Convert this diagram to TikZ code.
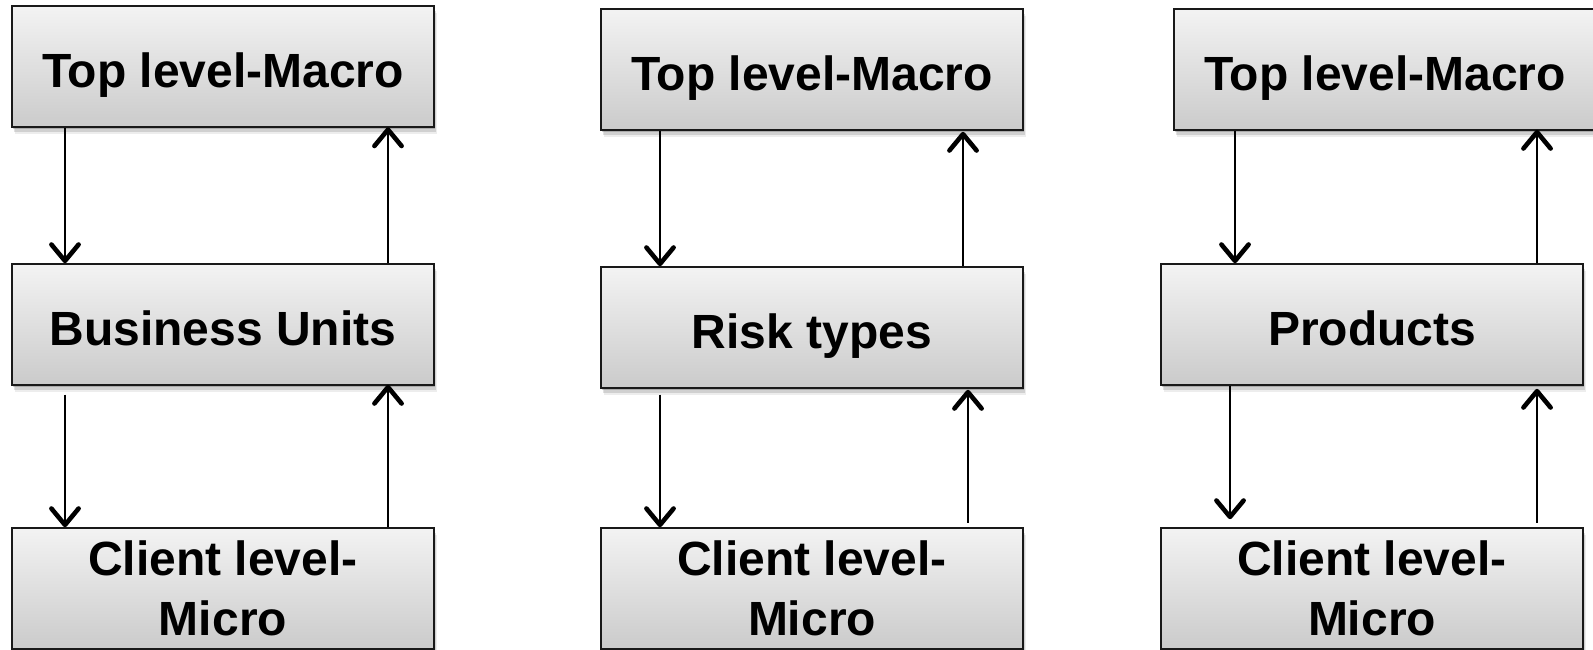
\documentclass[tikz,border=0pt]{standalone}
\usepackage{fontspec}
\setmainfont{Liberation Sans}
\usetikzlibrary{shadows,decorations.markings}
\definecolor{boxtop}{RGB}{243,243,243}
\definecolor{boxbot}{RGB}{203,203,203}
\definecolor{boxline}{RGB}{25,25,25}
\begin{document}
\begin{tikzpicture}[x=0.5pt,y=-0.5pt,
  box/.style={draw=boxline, line width=1pt, top color=boxtop, bottom color=boxbot,
    minimum width=211pt, minimum height=60.5pt, inner sep=0pt, align=center,
    font=\bfseries\fontsize{24}{30}\selectfont,
    drop shadow={shadow xshift=0.5pt, shadow yshift=-1.2pt, opacity=0.18, fill=black},
    drop shadow={shadow xshift=1pt, shadow yshift=-2.5pt, opacity=0.12, fill=black},
    drop shadow={shadow xshift=1.5pt, shadow yshift=-3.5pt, opacity=0.07, fill=black}},
  one/.style={text height=21pt, text depth=0pt},
  barb/.style={line width=2.3pt, line cap=round, line join=round},
  arr/.style={line width=1pt,
    postaction={decorate, decoration={markings,
      mark=at position 1 with {\draw[barb] (-9pt,6.8pt) -- (-0.8pt,0pt) -- (-9pt,-6.8pt);}}}}]
\useasboundingbox (0,0) rectangle (1593,649);
\fill[white] (0,0) rectangle (1593,649);
% column 1
\node[box,one] (t1) at (223,66.5) {Top level-Macro};
\node[box,one] (m1) at (223,324) {Business Units};
\node[box] (b1) at (223,588) {Client level-\\Micro};
% column 2
\node[box,one] (t2) at (812,69) {Top level-Macro};
\node[box,one] (m2) at (812,327) {Risk types};
\node[box] (b2) at (812,588) {Client level-\\Micro};
% column 3
\node[box,one] (t3) at (1385,69) {Top level-Macro};
\node[box,one] (m3) at (1372,324) {Products};
\node[box] (b3) at (1372,588) {Client level-\\Micro};
% arrow x positions
\coordinate (d1) at (65,0);
\coordinate (u1) at (388,0);
\coordinate (d2) at (660,0);
\coordinate (u2) at (963,0);
\coordinate (u2b) at (968,0);
\coordinate (d3) at (1235,0);
\coordinate (d3b) at (1230,0);
\coordinate (u3) at (1537,0);
% column 1 arrows
\draw[arr] (t1.south -| d1) -- (m1.north -| d1);
\draw[arr] (m1.north -| u1) -- (t1.south -| u1);
\draw[arr] ([yshift=-4.5pt]m1.south -| d1) -- (b1.north -| d1);
\draw[arr] (b1.north -| u1) -- (m1.south -| u1);
% column 2 arrows
\draw[arr] (t2.south -| d2) -- (m2.north -| d2);
\draw[arr] (m2.north -| u2) -- ([yshift=-1pt]t2.south -| u2);
\draw[arr] ([yshift=-3pt]m2.south -| d2) -- (b2.north -| d2);
\draw[arr] ([yshift=2pt]b2.north -| u2b) -- ([yshift=-1pt]m2.south -| u2b);
% column 3 arrows
\draw[arr] (t3.south -| d3) -- (m3.north -| d3);
\draw[arr] (m3.north -| u3) -- (t3.south -| u3);
\draw[arr] (m3.south -| d3b) -- ([yshift=4pt]b3.north -| d3b);
\draw[arr] ([yshift=2pt]b3.north -| u3) -- ([yshift=-2pt]m3.south -| u3);
\end{tikzpicture}
\end{document}
